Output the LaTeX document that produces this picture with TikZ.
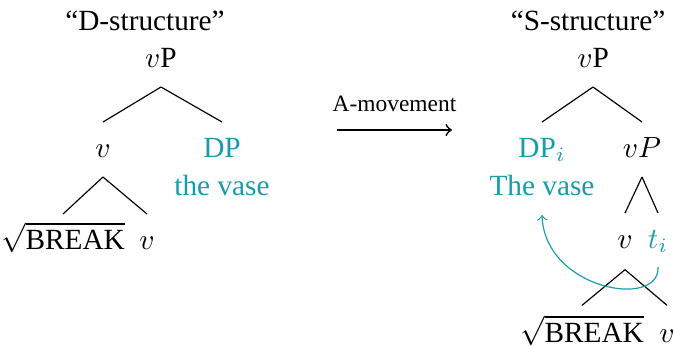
\documentclass[tikz,border=0pt]{standalone}
\usepackage{fontspec}
\setmainfont{Liberation Serif}
\usepackage{tikz}

\definecolor{vasecol}{RGB}{22,156,172}

\tikzset{
  word/.style={anchor=base, inner sep=0pt, text height=1.6ex, text depth=0.25ex},
  moved/.style={word, text=vasecol},
}

\begin{document}
\begin{tikzpicture}[x=0.12mm, y=-0.12mm]
\useasboundingbox (0,0) rectangle (675,345);

%------------------ LEFT TREE (D-structure) ------------------%
\node[word] (dtitle) at (145,30) {“D-structure”};
\node[word] (dvp)    at (161,67) {$v$P};

\node[word]  (dv)   at (103,157) {$v$};
\node[moved] (ddp)  at (222,157) {DP};
\node[moved] (dvase) at (222,195) {the vase};

\node[word] (droot) at (63,249)  {$\sqrt{\mbox{BREAK}}$};
\node[word] (dvlow) at (147,249) {$v$};

\draw ([yshift=-2.4mm]dvp.base) -- ([yshift=4.2mm]dv.base);
\draw ([yshift=-2.4mm]dvp.base) -- ([yshift=4.2mm]ddp.base);
\draw ([yshift=-2.4mm]dv.base)  -- ([yshift=4.2mm]droot.base);
\draw ([yshift=-2.4mm]dv.base)  -- ([yshift=4.2mm]dvlow.base);

%------------------ MOVEMENT ARROW ------------------%
\coordinate (mvfrom) at (337,130);
\coordinate (mvto)   at (452,130);
\draw[->, semithick] (mvfrom) -- node[above=0.9mm, font=\footnotesize] (mvlbl) {A-movement} (mvto);

%------------------ RIGHT TREE (S-structure) ------------------%
\node[word] (stitle) at (588,30) {“S-structure”};
\node[word] (svp)    at (593,67) {$v$P};

\node[moved] (sdp)   at (542,157) {DP$_i$};
\node[word]  (svpi)  at (642,157) {$vP$};
\node[moved] (svase) at (542,195) {The vase};

\node[word]  (sv)  at (625,248) {$v$};
\node[moved] (sti) at (658,248) {$t_i$};

\node[word] (sroot) at (582,342) {$\sqrt{\mbox{BREAK}}$};
\node[word] (svlow) at (667,342) {$v$};

\draw ([yshift=-2.4mm]svp.base)  -- ([yshift=4.2mm]sdp.base);
\draw ([yshift=-2.4mm]svp.base)  -- ([yshift=4.2mm]svpi.base);
\draw ([yshift=-2.4mm]svpi.base) -- ([yshift=4.2mm]sv.base);
\draw ([yshift=-2.4mm]svpi.base) -- ([yshift=4.2mm]sti.base);
\draw ([yshift=-2.6mm]sv.base)   -- ([yshift=4.4mm]sroot.base);
\draw ([yshift=-2.6mm]sv.base)   -- ([yshift=4.4mm]svlow.base);

% trace back to the moved DP
\draw[->, vasecol] ([yshift=-2.3mm]sti.base)
  .. controls +(2,42) and +(3,75) .. ([yshift=-2.4mm]svase.base);

\end{tikzpicture}
\end{document}
